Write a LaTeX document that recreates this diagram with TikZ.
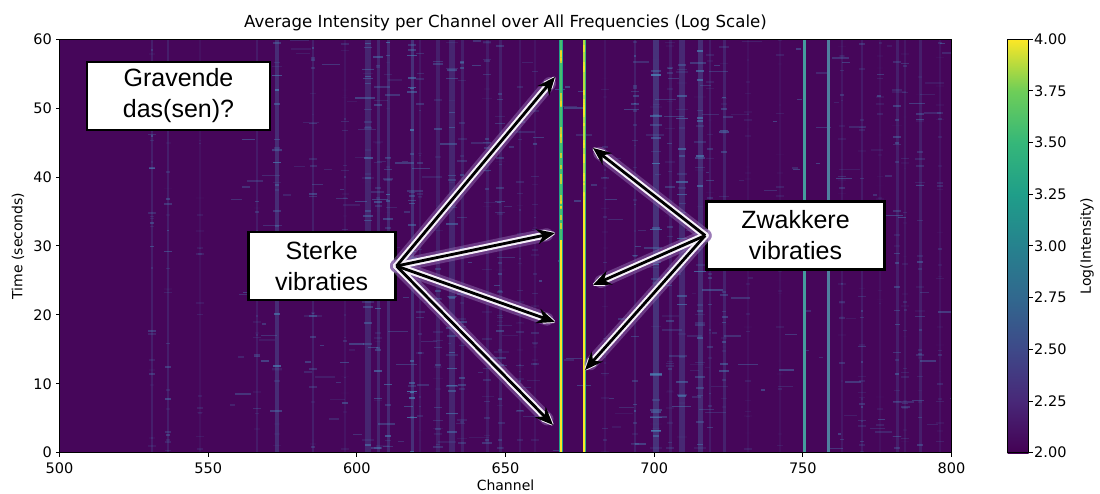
\documentclass[tikz,border=0pt]{standalone}
\usepackage{fontspec}
\setmainfont{DejaVu Sans}
\newfontfamily\boxfont{Liberation Sans}
\usetikzlibrary{arrows.meta,positioning}

\definecolor{vir0}{HTML}{440154}
\definecolor{vir1}{HTML}{482878}
\definecolor{vir2}{HTML}{3E4989}
\definecolor{vir3}{HTML}{31688E}
\definecolor{vir4}{HTML}{26828E}
\definecolor{vir5}{HTML}{1F9E89}
\definecolor{vir6}{HTML}{35B779}
\definecolor{vir7}{HTML}{6ECE58}
\definecolor{vir8}{HTML}{FDE725}
\definecolor{bgpurple}{HTML}{46065A}
\definecolor{streak}{HTML}{4A84B6}
\definecolor{glowc}{HTML}{F6F0FA}
\definecolor{haloc}{HTML}{8E6AAE}

\tikzset{
	annot/.style={draw=black, line width=2.6pt, fill=white, align=center,
		font=\boxfont\fontsize{25}{31}\selectfont, inner sep=0pt},
	pointer/.style={line width=2.8pt, -{Stealth[length=18pt,width=15pt]}},
	glow/.style={glowc, line width=7pt, line cap=round, line join=round,
		-{Stealth[length=18pt,width=15pt,line width=7pt,round]}},
	softglow/.style={haloc, line width=13pt, line cap=round, line join=round,
		-{Stealth[length=18pt,width=15pt,line width=13pt,round]}},
	ticklab/.style={font=\fontsize{14.5}{16}\selectfont, inner sep=0pt},
}

\begin{document}
\begin{tikzpicture}[x=1pt,y=-1pt]
	
	\useasboundingbox (0,0) rectangle (1100,493);
	\pgfmathsetseed{42}
	
	% heat map
	\begin{scope}
		\clip (59.5,39) rectangle (951.5,452.7);
		\fill[bgpurple] (59.5,39) rectangle (951.5,452.7);
		\foreach \cx/\cw/\cs in {152/2/.35, 168/2/.35, 200/1.5/.15, 257/2/.3, 277/4/.55, 313/2/.35, 345/2/.2, 368/6/.45, 378/3/.45, 388/3/.5, 412/3/.6, 420/2/.25, 438/4/.35, 452/6/.45, 462/3/.35, 487/3/.3, 500/3/.35, 520/2/.25, 535/2/.2, 605/2/.2, 635/2/.35, 656/6/.65, 670/3/.3, 682/6/.5, 700/5/.55, 710/2/.3, 724/3/.4, 748/2/.15, 780/2/.15, 842/2/.25, 862/2/.3, 880/2/.15, 897/3/.35, 905/2/.25, 920/3/.35, 940/2/.2}{
			\pgfmathsetmacro\baseop{\cs*0.55}
			\fill[streak, opacity=\baseop] (\cx-\cw/2,39) rectangle (\cx+\cw/2,452.7);
			\foreach \k in {1,...,30}{
				\pgfmathsetmacro\yy{39+413*rnd}
				\pgfmathsetmacro\ww{\cw+7*rnd}
				\pgfmathsetmacro\oo{min(1,\cs*1.3*rnd)}
				\fill[streak, opacity=\oo] (\cx-\ww/2,\yy) rectangle (\cx+\ww/2,\yy+1.6);
			}
		}
		% loose horizontal flecks
		\foreach \k in {1,...,260}{
			\pgfmathsetmacro\xx{230+720*rnd}
			\pgfmathsetmacro\yy{39+413*rnd}
			\pgfmathsetmacro\ww{3+18*rnd}
			\pgfmathsetmacro\oo{0.12+0.35*rnd}
			\fill[streak, opacity=\oo] (\xx,\yy) rectangle (\xx+\ww,\yy+1.4);
		}
		% weaker lines
		\fill[vir4!70!vir5!85!white] (802.5,39) rectangle (805.5,452.7);
		\fill[vir3!85!white] (827,39) rectangle (829.5,452.7);
		% strong lines
		\fill[vir5] (559,39) rectangle (562.5,452.7);
		\fill[vir6!70!vir7] (559.7,39) rectangle (561.8,452.7);
		\fill[vir8] (559.7,240) rectangle (561.8,452.7);
		\fill[vir6] (582.5,39) rectangle (586,452.7);
		\fill[vir7!50!vir8] (583.2,39) rectangle (585.3,452.7);
		\fill[vir8] (583.2,200) rectangle (585.3,452.7);
		\foreach \k in {1,...,18}{
			\pgfmathsetmacro\yy{39+200*rnd}
			\pgfmathsetmacro\hh{2+8*rnd}
			\fill[vir8!85!orange, opacity=.7] (559.7,\yy) rectangle (561.8,\yy+\hh);
			\pgfmathsetmacro\yy{39+160*rnd}
			\fill[vir8, opacity=.7] (583.2,\yy) rectangle (585.3,\yy+\hh);
		}
	\end{scope}
	\draw[line width=0.8pt] (59.5,39) rectangle (951.5,452.7);
	
	% axes
	\node (title) at (505.5,23) {\fontsize{16.6}{18}\selectfont Average Intensity per Channel over All Frequencies (Log Scale)};
	\foreach \v [count=\i from 0] in {500,550,...,800}{
		\draw[line width=0.8pt] (59.5+\i*148.67,452.7) -- ++(0,4);
		\node[ticklab, anchor=north] (xt\i) at (59.5+\i*148.67,463) {\v};
	}
	\foreach \v [count=\i from 0] in {0,10,...,60}{
		\draw[line width=0.8pt] (59.5,452.7-\i*68.95) -- ++(-4,0);
		\node[ticklab, anchor=east] (yt\i) at (52,452.7-\i*68.95) {\v};
	}
	\node[font=\fontsize{14}{16}\selectfont, inner sep=1pt, anchor=south] (xlab) at (505.5,492) {Channel};
	\node[font=\fontsize{14}{16}\selectfont, rotate=90] (ylab) at (18,246) {Time (seconds)};
	
	% colour bar
	\foreach \a/\b [count=\i from 0] in {vir0/vir1, vir1/vir2, vir2/vir3, vir3/vir4, vir4/vir5, vir5/vir6, vir6/vir7, vir7/vir8}{
		\fill[bottom color=\a, top color=\b] (1007.5,452.7-\i*51.71+0.3) rectangle (1028.5,452.7-\i*51.71-51.71);
	}
	\draw[line width=0.8pt] (1007.5,39) rectangle (1028.5,452.7);
	\foreach \v [count=\i from 0] in {2.00,2.25,2.50,2.75,3.00,3.25,3.50,3.75,4.00}{
		\draw[line width=0.8pt] (1028.5,452.7-\i*51.71) -- ++(4,0);
		\node[ticklab, anchor=west] (ct\i) at (1034,452.7-\i*51.71) {\v};
	}
	\node[font=\fontsize{14}{16}\selectfont, rotate=90] (clab) at (1087,246) {Log(Intensity)};
	
	% annotations
	\node[annot, minimum width=183pt, minimum height=68pt] (digger) at (178.5,96) {Gravende\\das(sen)?};
	\node[annot, minimum width=147pt, minimum height=68pt] (strong) at (321.7,266) {Sterke\\vibraties};
	\node[annot, minimum width=178pt, minimum height=68pt] (weak) at (795.5,235.5) {Zwakkere\\vibraties};
	
	\coordinate (s1) at (555,77);
	\coordinate (s2) at (555,233);
	\coordinate (s3) at (555,322);
	\coordinate (s4) at (553,425);
	\coordinate (w1) at (593,148);
	\coordinate (w2) at (593,285);
	\coordinate (w3) at (585,370);
	
	\foreach \t in {s1,s2,s3,s4}
		\draw[softglow, opacity=.5] (strong.east) -- (\t);
	\foreach \t in {w1,w2,w3}
		\draw[softglow, opacity=.5] (weak.west) -- (\t);
	\foreach \t in {s1,s2,s3,s4}
		\draw[glow] (strong.east) -- (\t);
	\foreach \t in {w1,w2,w3}
		\draw[glow] (weak.west) -- (\t);
	\foreach \t in {s1,s2,s3,s4}
		\draw[pointer] (strong.east) -- (\t);
	\foreach \t in {w1,w2,w3}
		\draw[pointer] (weak.west) -- (\t);
	
\end{tikzpicture}
\end{document}
